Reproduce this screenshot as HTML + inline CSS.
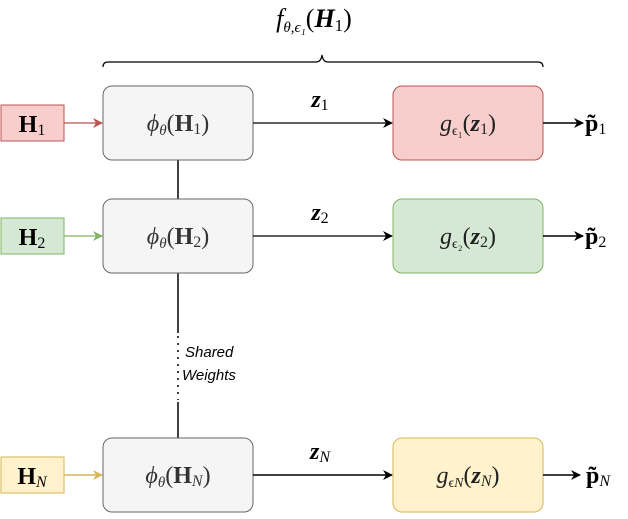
<!DOCTYPE html>
<html><head><meta charset="utf-8"><style>
body{margin:0;background:#fff}
svg text{font-family:"Liberation Serif",serif}
</style></head><body>
<svg width="628" height="514" viewBox="0 0 628 514" xmlns="http://www.w3.org/2000/svg">
<defs>
<marker id="ab" markerWidth="10" markerHeight="10" refX="9" refY="5" orient="auto" markerUnits="userSpaceOnUse"><path d="M0,0 L10,5 L0,10 L3,5 z" fill="#000"/></marker>
<marker id="ar" markerWidth="10" markerHeight="10" refX="9" refY="5" orient="auto" markerUnits="userSpaceOnUse"><path d="M0,0 L10,5 L0,10 L3,5 z" fill="#b85450"/></marker>
<marker id="ag" markerWidth="10" markerHeight="10" refX="9" refY="5" orient="auto" markerUnits="userSpaceOnUse"><path d="M0,0 L10,5 L0,10 L3,5 z" fill="#82b366"/></marker>
<marker id="ay" markerWidth="10" markerHeight="10" refX="9" refY="5" orient="auto" markerUnits="userSpaceOnUse"><path d="M0,0 L10,5 L0,10 L3,5 z" fill="#d6b656"/></marker>
</defs>
<text x="314" y="27" font-size="26" font-style="italic" text-anchor="middle">f<tspan font-size="15" dy="5">θ,ϵ₁</tspan><tspan dy="-5" font-style="normal">(</tspan><tspan font-weight="bold">H</tspan><tspan font-style="normal" font-size="17" dy="4">1</tspan><tspan font-style="normal" dy="-4">)</tspan></text>
<path d="M103,67 Q103,62 108,62 L316,62 Q321,62 322,55 Q323,62 328,62 L538,62 Q543,62 543,67" fill="none" stroke="#000" stroke-width="1.2"/>
<line x1="178" y1="160" x2="178" y2="199" stroke="#000" stroke-width="1.5"/>
<line x1="178" y1="273" x2="178" y2="333" stroke="#000" stroke-width="1.5"/>
<line x1="178" y1="336" x2="178" y2="400" stroke="#000" stroke-width="1.5" stroke-dasharray="2,5"/>
<line x1="178" y1="402" x2="178" y2="438" stroke="#000" stroke-width="1.5"/>
<text x="185" y="357" font-size="15" font-style="italic" style="font-family:'Liberation Sans',sans-serif">Shared</text>
<text x="182" y="380" font-size="15" font-style="italic" style="font-family:'Liberation Sans',sans-serif">Weights</text>
<g>
<rect x="1" y="105" width="63" height="36" fill="#f8cecc" stroke="#b85450"/>
<text x="32" y="132" font-size="24" text-anchor="middle"><tspan font-weight="bold">H</tspan><tspan font-size="16" dy="3">1</tspan></text>
<line x1="64" y1="123" x2="102" y2="123" stroke="#b85450" stroke-width="1.2" marker-end="url(#ar)"/>
<rect x="103" y="86" width="150" height="74" rx="9" fill="#f5f5f5" stroke="#666"/>
<text x="178" y="131" font-size="24" text-anchor="middle" fill="#333"><tspan font-style="italic">ϕ</tspan><tspan font-size="15" font-style="italic" dy="4">θ</tspan><tspan dy="-4">(</tspan><tspan font-weight="bold">H</tspan><tspan font-size="16" dy="3">1</tspan><tspan dy="-3">)</tspan></text>
<line x1="253" y1="123" x2="392" y2="123" stroke="#000" stroke-width="1.2" marker-end="url(#ab)"/>
<text x="320" y="107" font-size="24" text-anchor="middle" font-style="italic" font-weight="bold">z<tspan font-size="16" font-weight="normal" font-style="normal" dy="3">1</tspan></text>
<rect x="393" y="86" width="150" height="74" rx="9" fill="#f8cecc" stroke="#b85450"/>
<text x="468" y="131" font-size="24" text-anchor="middle" fill="#222"><tspan font-style="italic">g</tspan><tspan font-size="14" dy="4">ϵ₁</tspan><tspan dy="-4">(</tspan><tspan font-style="italic" font-weight="bold">z</tspan><tspan font-size="16" dy="3">1</tspan><tspan dy="-3">)</tspan></text>
<line x1="543" y1="123" x2="583" y2="123" stroke="#000" stroke-width="1.5" marker-end="url(#ab)"/>
<text x="585" y="131" font-size="24" font-weight="bold">p̃<tspan font-size="16" font-weight="normal" dy="3">1</tspan></text>
</g>
<g>
<rect x="1" y="218" width="63" height="36" fill="#d5e8d4" stroke="#82b366"/>
<text x="32" y="245" font-size="24" text-anchor="middle"><tspan font-weight="bold">H</tspan><tspan font-size="16" dy="3">2</tspan></text>
<line x1="64" y1="236" x2="102" y2="236" stroke="#82b366" stroke-width="1.2" marker-end="url(#ag)"/>
<rect x="103" y="199" width="150" height="74" rx="9" fill="#f5f5f5" stroke="#666"/>
<text x="178" y="244" font-size="24" text-anchor="middle" fill="#333"><tspan font-style="italic">ϕ</tspan><tspan font-size="15" font-style="italic" dy="4">θ</tspan><tspan dy="-4">(</tspan><tspan font-weight="bold">H</tspan><tspan font-size="16" dy="3">2</tspan><tspan dy="-3">)</tspan></text>
<line x1="253" y1="236" x2="392" y2="236" stroke="#000" stroke-width="1.2" marker-end="url(#ab)"/>
<text x="320" y="220" font-size="24" text-anchor="middle" font-style="italic" font-weight="bold">z<tspan font-size="16" font-weight="normal" font-style="normal" dy="3">2</tspan></text>
<rect x="393" y="199" width="150" height="74" rx="9" fill="#d5e8d4" stroke="#82b366"/>
<text x="468" y="244" font-size="24" text-anchor="middle" fill="#222"><tspan font-style="italic">g</tspan><tspan font-size="14" dy="4">ϵ₂</tspan><tspan dy="-4">(</tspan><tspan font-style="italic" font-weight="bold">z</tspan><tspan font-size="16" dy="3">2</tspan><tspan dy="-3">)</tspan></text>
<line x1="543" y1="236" x2="583" y2="236" stroke="#000" stroke-width="1.5" marker-end="url(#ab)"/>
<text x="585" y="244" font-size="24" font-weight="bold">p̃<tspan font-size="16" font-weight="normal" dy="3">2</tspan></text>
</g>
<g>
<rect x="1" y="457" width="63" height="36" fill="#fff2cc" stroke="#d6b656"/>
<text x="32" y="484" font-size="24" text-anchor="middle"><tspan font-weight="bold">H</tspan><tspan font-size="16" font-style="italic" dy="3">N</tspan></text>
<line x1="64" y1="475" x2="102" y2="475" stroke="#d6b656" stroke-width="1.5" marker-end="url(#ay)"/>
<rect x="103" y="438" width="150" height="74" rx="9" fill="#f5f5f5" stroke="#666"/>
<text x="178" y="483" font-size="24" text-anchor="middle" fill="#333"><tspan font-style="italic">ϕ</tspan><tspan font-size="15" font-style="italic" dy="4">θ</tspan><tspan dy="-4">(</tspan><tspan font-weight="bold">H</tspan><tspan font-size="16" font-style="italic" dy="3">N</tspan><tspan dy="-3">)</tspan></text>
<line x1="253" y1="475" x2="392" y2="475" stroke="#000" stroke-width="1.5" marker-end="url(#ab)"/>
<text x="320" y="459" font-size="24" text-anchor="middle" font-style="italic" font-weight="bold">z<tspan font-size="16" font-weight="normal" dy="3">N</tspan></text>
<rect x="393" y="438" width="150" height="74" rx="9" fill="#fff2cc" stroke="#d6b656"/>
<text x="468" y="483" font-size="24" text-anchor="middle" fill="#222"><tspan font-style="italic">g</tspan><tspan font-size="14" dy="4">ϵ<tspan font-style="italic">N</tspan></tspan><tspan dy="-4">(</tspan><tspan font-style="italic" font-weight="bold">z</tspan><tspan font-size="16" font-style="italic" dy="3">N</tspan><tspan dy="-3">)</tspan></text>
<line x1="543" y1="475" x2="580" y2="475" stroke="#000" stroke-width="1.5" marker-end="url(#ab)"/>
<text x="586" y="483" font-size="24" font-weight="bold">p̃<tspan font-size="16" font-weight="normal" font-style="italic" dy="3">N</tspan></text>
</g>
</svg>
</body></html>
